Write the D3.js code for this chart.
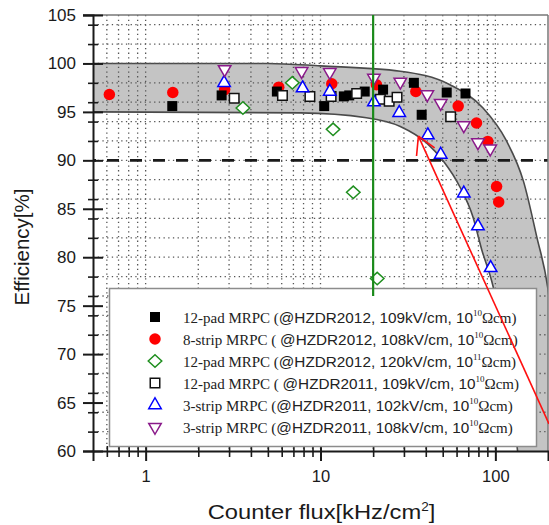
<!DOCTYPE html>
<html>
<head>
<meta charset="utf-8">
<script src="https://cdn.jsdelivr.net/npm/d3@7/dist/d3.min.js"></script>
<style>
  body { margin: 0; background: #fff; }
  svg { display: block; }
</style>
</head>
<body>
<svg id="chart" width="549" height="525"></svg>
<script>
// ---- data: [counter flux (kHz/cm^2), efficiency (%)] ----
const pad12_2012 = [
  [1.42, 95.6], [2.72, 96.7], [5.63, 97.1], [10.5, 95.6], [13.6, 96.6], [14.6, 96.7],
  [17.9, 97.1], [22.8, 97.3], [34.2, 98.0], [37.9, 94.7], [52.7, 97.0], [67.5, 96.9]
];
const strip8_2012 = [
  [0.62, 96.8], [1.43, 97.0], [2.83, 97.3], [5.77, 97.55], [11.6, 97.9], [20.9, 97.8],
  [35.1, 97.1], [61.3, 95.6], [78, 93.85], [90.5, 91.95], [101.6, 87.3], [104.5, 85.7]
];
const pad12_2012_hv = [
  [3.6, 95.4], [6.9, 98.0], [11.8, 93.2], [15.4, 86.7], [21.1, 77.8]
];
const pad12_2011 = [
  [3.21, 96.4], [6.06, 96.7], [8.7, 96.6], [11.5, 96.6], [16.1, 96.9], [22, 96.3],
  [24.7, 96.1], [27.4, 96.5], [55.5, 94.5]
];
const strip3_102 = [
  [2.81, 98.0], [7.9, 97.45], [11.3, 97.1], [20.2, 96.0], [28.2, 94.9], [41.1, 92.6],
  [48.7, 90.6], [66, 86.6], [79.5, 83.2], [94, 78.9]
];
const strip3_108 = [
  [2.83, 99.4], [7.8, 99.2], [11.3, 99.1], [20.2, 98.5], [28.6, 98.1], [40.8, 96.8],
  [48.7, 95.9], [66, 93.6], [79.5, 91.85], [93.5, 91.2]
];

// shaded efficiency band (upper and lower edges)
const bandUpper = [
  [0.5, 100], [5, 100], [10, 99.75], [28.6, 99.2], [55, 97.8], [85, 95.4], [115, 92.1],
  [145, 87.8], [172, 82.2], [200, 76.7], [215, 72]
];
const bandLower = [
  [0.5, 95], [7.7, 94.9], [18.3, 94.4], [28.6, 93.5], [40.4, 91.8], [50.5, 89.9],
  [62.5, 87.3], [74.3, 84.2], [83.5, 80.8], [97, 77], [134, 60], [140, 57]
];

// reference lines and annotation arrow
const effLimit = 90;
const fluxLimit = 20;
const fluxLimitSpan = [76, 105];
const arrowTail = [200, 62.8];
const arrowHead = [36.3, 92.5];

// axis ticks
const xMajorTicks = [1, 10, 100];
const xTickLabels = ["1", "10", "100"];
const yMajorTicks = [60, 65, 70, 75, 80, 85, 90, 95, 100, 105];
const yTickLabels = ["60", "65", "70", "75", "80", "85", "90", "95", "100", "105"];

const legendLabels = [
  ["12-pad MRPC (", "@HZDR2012, 109kV/cm, 10", "10", "Ωcm)"],
  ["8-strip MRPC ( ", "@HZDR2012, 108kV/cm, 10", "10", "Ωcm)"],
  ["12-pad MRPC (", "@HZDR2012, 120kV/cm, 10", "11", "Ωcm)"],
  ["12-pad MRPC ( ", "@HZDR2011, 109kV/cm, 10", "10", "Ωcm)"],
  ["3-strip MRPC (", "@HZDR2011, 102kV/cm, 10", "10", "Ωcm)"],
  ["3-strip MRPC (", "@HZDR2011, 108kV/cm, 10", "10", "Ωcm)"]
];

// ---- drawing ----
const pL = 93, pR = 548, pT = 15, pB = 451;
const svg = d3.select("#chart");
const x = d3.scaleLog().domain([0.5, 200]).range([pL, pR]);
const y = d3.scaleLinear().domain([60, 105]).range([pB, pT]);

const SANS = "'Liberation Sans', Arial, Helvetica, sans-serif";
const SERIF = "'Liberation Serif', 'Times New Roman', serif";

svg.append("defs").append("clipPath").attr("id", "plotClip")
  .append("rect").attr("x", pL).attr("y", pT)
  .attr("width", pR - pL).attr("height", pB - pT);

const plot = svg.append("g").attr("clip-path", "url(#plotClip)");

// band
const edge = d3.line().x(d => x(d[0])).y(d => y(d[1])).curve(d3.curveMonotoneX);
const upperPath = edge(bandUpper);
const lowerPath = edge(bandLower.slice().reverse());
const corner = [x.range()[1] + 30, y.range()[0] + 30];
plot.append("path")
  .attr("d", upperPath + "L" + corner[0] + "," + corner[1] + "L" + lowerPath.slice(1))
  .attr("fill", "#c4c4c4").attr("stroke", "none");
plot.append("path").attr("d", upperPath).attr("fill", "none")
  .attr("stroke", "#4a4a4a").attr("stroke-width", 1.6);
plot.append("path").attr("d", edge(bandLower)).attr("fill", "none")
  .attr("stroke", "#4a4a4a").attr("stroke-width", 1.6);

// dotted grid
const xGrid = x.ticks().filter(v => v > 0.5 && v < 200);
const yGrid = y.ticks(18).filter(v => v > 60 && v < 105);
plot.append("g").selectAll("line").data(xGrid).join("line")
  .attr("x1", d => x(d)).attr("x2", d => x(d)).attr("y1", pT).attr("y2", pB)
  .attr("stroke", "#555").attr("stroke-width", 1.3).attr("stroke-dasharray", "1.3,3.4");
plot.append("g").selectAll("line").data(yGrid).join("line")
  .attr("y1", d => y(d)).attr("y2", d => y(d)).attr("x1", pL).attr("x2", pR)
  .attr("stroke", "#555").attr("stroke-width", 1.3).attr("stroke-dasharray", "1.3,3.4");

// 90 % line
plot.append("line")
  .attr("x1", pL).attr("x2", pR).attr("y1", y(effLimit)).attr("y2", y(effLimit))
  .attr("stroke", "#1a1a1a").attr("stroke-width", 2.6).attr("stroke-dasharray", "12,11")
  .attr("stroke-dashoffset", -14);

// marker shapes
const shapes = {
  square: s => `M${-s / 2},${-s / 2}h${s}v${s}h${-s}Z`,
  circle: s => `M${s / 2},0A${s / 2},${s / 2} 0 1,1 ${-s / 2},0A${s / 2},${s / 2} 0 1,1 ${s / 2},0Z`,
  diamond: s => `M0,${-s * 0.46}L${s / 2},0L0,${s * 0.46}L${-s / 2},0Z`,
  up: s => `M0,${-s * 0.58}L${s / 2},${s * 0.29}L${-s / 2},${s * 0.29}Z`,
  down: s => `M0,${s * 0.58}L${s / 2},${-s * 0.29}L${-s / 2},${-s * 0.29}Z`
};
const series = [
  { data: pad12_2012_hv, shape: "diamond", size: 13.5, fill: "#fff", stroke: "#1f8f1f" },
  { data: strip8_2012, shape: "circle", size: 11.5, fill: "#ff0000", stroke: "none" },
  { data: pad12_2012, shape: "square", size: 10, fill: "#000", stroke: "none" },
  { data: pad12_2011, shape: "square", size: 9.5, fill: "#fff", stroke: "#111" },
  { data: strip3_102, shape: "up", size: 12.5, fill: "#fff", stroke: "#0000ff" },
  { data: strip3_108, shape: "down", size: 12.5, fill: "#fff", stroke: "#8a1a8a" }
];
const legendOrder = [2, 1, 0, 3, 4, 5];

series.forEach(s => {
  plot.append("g").selectAll("path").data(s.data).join("path")
    .attr("transform", d => `translate(${x(d[0])},${y(d[1])})`)
    .attr("d", shapes[s.shape](s.size))
    .attr("fill", s.fill).attr("stroke", s.stroke).attr("stroke-width", 1.5);
});

// frame: top and right
svg.append("line").attr("x1", pL - 10).attr("x2", pR).attr("y1", pT).attr("y2", pT)
  .attr("stroke", "#777").attr("stroke-width", 1.5);
svg.append("line").attr("x1", pR).attr("x2", pR).attr("y1", pT).attr("y2", pB)
  .attr("stroke", "#777").attr("stroke-width", 1.5);

// axes
function styleAxis(g, width) {
  g.select(".domain").attr("stroke", "#1a1a1a").attr("stroke-width", width);
  g.selectAll(".tick line").attr("stroke", "#1a1a1a").attr("stroke-width", width);
}
const yMinor = y.ticks(18).filter(v => yMajorTicks.indexOf(v) < 0);
const xMinor = x.ticks().filter(v => xMajorTicks.indexOf(v) < 0 && v > 0.5 && v < 200);

const gy = svg.append("g").attr("transform", `translate(${pL},0)`);
gy.append("g").call(d3.axisLeft(y).tickValues(yMajorTicks).tickSize(10).tickPadding(7)
  .tickFormat((d, i) => yTickLabels[i])).call(g => styleAxis(g, 2))
  .call(g => g.selectAll("text").attr("font-family", SANS).attr("font-size", 17).attr("fill", "#1a1a1a"));
gy.append("g").call(d3.axisRight(y).tickValues(yMajorTicks).tickSize(10).tickFormat(""))
  .call(g => styleAxis(g, 2)).call(g => g.select(".domain").remove());
gy.append("g").call(d3.axisLeft(y).tickValues(yMinor).tickSize(5).tickFormat(""))
  .call(g => styleAxis(g, 1.6)).call(g => g.select(".domain").remove());
gy.append("g").call(d3.axisRight(y).tickValues(yMinor).tickSize(5).tickFormat(""))
  .call(g => styleAxis(g, 1.6)).call(g => g.select(".domain").remove());

const gx = svg.append("g").attr("transform", `translate(0,${pB})`);
gx.append("g").call(d3.axisBottom(x).tickValues(xMajorTicks).tickSize(10).tickPadding(9)
  .tickFormat((d, i) => xTickLabels[i])).call(g => styleAxis(g, 2))
  .call(g => g.selectAll("text").attr("font-family", SANS).attr("font-size", 16.5).attr("fill", "#1a1a1a"));
gx.append("g").call(d3.axisTop(x).tickValues(xMajorTicks).tickSize(8).tickFormat(""))
  .call(g => styleAxis(g, 2)).call(g => g.select(".domain").remove());
gx.append("g").call(d3.axisBottom(x).tickValues(xMinor).tickSize(6).tickFormat(""))
  .call(g => styleAxis(g, 1.6)).call(g => g.select(".domain").remove());
gx.append("g").call(d3.axisTop(x).tickValues(xMinor).tickSize(5).tickFormat(""))
  .call(g => styleAxis(g, 1.6)).call(g => g.select(".domain").remove());

// axis titles
const xt = svg.append("text").attr("transform", "translate(321.5,519) scale(1.13,1)")
  .attr("text-anchor", "middle").attr("font-family", SANS).attr("font-size", 21).attr("fill", "#1a1a1a");
xt.append("tspan").text("Counter flux[kHz/cm");
xt.append("tspan").attr("dy", -8).attr("font-size", 12).text("2");
xt.append("tspan").attr("dy", 8).text("]");
svg.append("text").attr("transform", "translate(29,247) rotate(-90)")
  .attr("text-anchor", "middle").attr("font-family", SANS).attr("font-size", 20.5).attr("fill", "#1a1a1a")
  .text("Efficiency[%]");

// legend
const lg = svg.append("g");
lg.append("rect").attr("x", 109.5).attr("y", 288.5).attr("width", 427).attr("height", 158)
  .attr("fill", "#fff").attr("stroke", "#8c8c8c").attr("stroke-width", 1.5);
legendOrder.forEach((si, i) => {
  const s = series[si];
  const cy = 317 + i * 22;
  lg.append("path").attr("transform", `translate(155,${cy})`)
    .attr("d", shapes[s.shape](s.size)).attr("fill", s.fill).attr("stroke", s.stroke).attr("stroke-width", 1.5);
  const parts = legendLabels[i];
  const t = lg.append("text").attr("x", 183).attr("y", cy + 5.5).attr("fill", "#222").attr("font-size", 15);
  t.append("tspan").attr("font-family", SERIF).text(parts[0]);
  t.append("tspan").attr("font-family", SANS).attr("font-size", 15.3).text(parts[1]);
  t.append("tspan").attr("font-family", SERIF).attr("font-size", 9).attr("dy", -7).text(parts[2]);
  t.append("tspan").attr("font-family", SERIF).attr("dy", 7).text(parts[3]);
});

// 20 kHz/cm^2 line
svg.append("line").attr("x1", x(fluxLimit)).attr("x2", x(fluxLimit))
  .attr("y1", y(fluxLimitSpan[1])).attr("y2", y(fluxLimitSpan[0]))
  .attr("stroke", "#1a8a1a").attr("stroke-width", 2.2);

// arrow
const ax0 = x(arrowTail[0]) + 1, ay0 = y(arrowTail[1]);
const ax1 = x(arrowHead[0]), ay1 = y(arrowHead[1]);
svg.append("line").attr("x1", ax0).attr("y1", ay0).attr("x2", ax1).attr("y2", ay1)
  .attr("stroke", "#ff1010").attr("stroke-width", 1.6);
const ang = Math.atan2(ay0 - ay1, ax0 - ax1);
[-0.52, 0.52].forEach(da => {
  svg.append("line").attr("x1", ax1).attr("y1", ay1)
    .attr("x2", ax1 + 20 * Math.cos(ang + da)).attr("y2", ay1 + 20 * Math.sin(ang + da))
    .attr("stroke", "#ff1010").attr("stroke-width", 1.6);
});
</script>
</body>
</html>
